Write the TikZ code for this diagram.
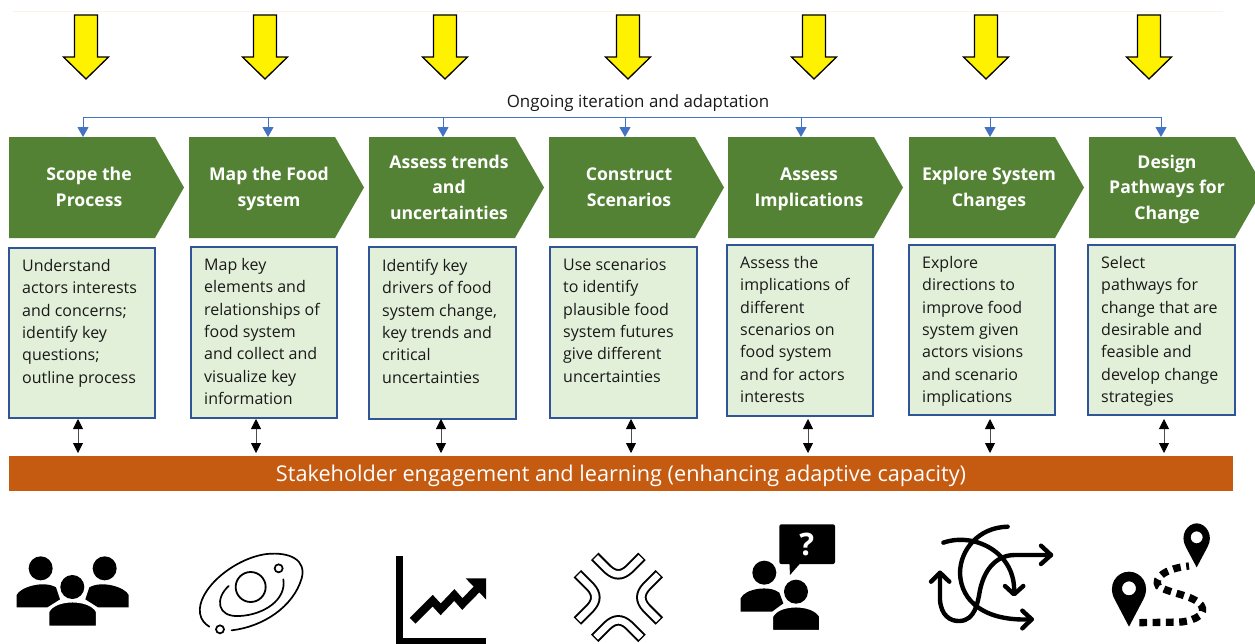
\documentclass[tikz,border=0pt]{standalone}
\usepackage{fontspec}
\setmainfont{Open Sans}
\usetikzlibrary{arrows.meta}
\definecolor{chevgreen}{HTML}{548235}
\definecolor{boxfill}{HTML}{E2F0D9}
\definecolor{boxline}{HTML}{2F5597}
\definecolor{iterblue}{HTML}{4472C4}
\definecolor{barorange}{HTML}{C55A11}
\definecolor{faint}{HTML}{FBF3E4}
\newcommand\fl{\rule{0pt}{16pt}}
\newcommand\hf{\rule{0pt}{15pt}}
\newcommand\hl{\rule[-5pt]{0pt}{5pt}}
\tikzset{
  chevtext/.style={text=white,font=\fontsize{17.6}{25.5}\selectfont\bfseries,align=center,inner sep=0pt},
  descbox/.style={draw=boxline,fill=boxfill,line width=1.5pt,inner sep=0pt,outer sep=0pt,anchor=north west},
  desctext/.style={font=\fontsize{16}{22.4}\selectfont,align=left,anchor=north west,inner sep=0pt,text=black!90},
  yarrow/.style={draw=black,fill=yellow,line width=1.3pt,miter limit=10},
  iter/.style={draw=iterblue,line width=1pt,-{Triangle[length=10pt,width=11pt]}},
  dbl/.style={draw=black!70,line width=.8pt,{Triangle[length=10pt,width=10pt,black]}-{Triangle[length=10pt,width=10pt,black]}},
  zoomone/.style={shift={(0,510)},x=.33333pt,y=-.33333pt},
  zoomtwo/.style={shift={(420,510)},x=.33333pt,y=-.33333pt},
  zoomthree/.style={shift={(835,510)},x=.33333pt,y=-.33333pt}
}
\begin{document}
\begin{tikzpicture}[x=1pt,y=-1pt]
\useasboundingbox (0,0) rectangle (1255,643);
\clip (0,0) rectangle (1255,643);
\fill[white] (0,0) rectangle (1255,643);
\draw[faint,line width=.8pt] (13,11) -- (1223,11);
% yellow arrows
\foreach \c in {86,265,445,628,814,986,1149}{
  \draw[yarrow] (\c-11.5,15) -- (\c+11.5,15) -- (\c+11.5,57) -- (\c+22.5,57) -- (\c,79) -- (\c-22.5,57) -- (\c-11.5,57) -- cycle;
}
% chevrons
\foreach \n/\l in {1/9,2/189,3/369,4/549,5/728,6/909,7/1089}{
  \fill[chevgreen] (\l,137) -- (\l+146,137) -- (\l+175,187.5) -- (\l+146,238) -- (\l,238) -- cycle;
  \coordinate (chev\n) at (\l,137);
}
\node[chevtext] (h1) at (89,188.5) {\hf Scope the\\Process\hl};
\node[chevtext] (h2) at (269,188.5) {\hf Map the Food\\system\hl};
\node[chevtext] (h3) at (449,188.5) {\hf Assess trends\\and\\uncertainties\hl};
\node[chevtext] (h4) at (629,188.5) {\hf Construct\\Scenarios\hl};
\node[chevtext] (h5) at (809,188.5) {\hf Assess\\Implications\hl};
\node[chevtext] (h6) at (989,188.5) {\hf Explore System\\Changes\hl};
\node[chevtext] (h7) at (1167,188.5) {\hf Design\\Pathways for\\Change\hl};
% iteration line
\node[font=\fontsize{16.9}{18}\selectfont,inner sep=0pt,text=black!90] (iterlabel) at (638,103.5) {Ongoing iteration and adaptation};
\coordinate (lineL) at (83,117);
\coordinate (lineR) at (1161,117);
\draw[iterblue,line width=1pt] (lineL) -- (lineR);
\foreach \x in {83,268,443,625,801,990,1161}{
  \coordinate (ls\x) at (\x,117);
  \coordinate (le\x) at (\x,137);
  \draw[iter] (ls\x) -- (le\x);
}
% description boxes
\node[descbox,minimum width=146pt,minimum height=170pt] (b1) at (9,248) {};
\node[descbox,minimum width=146pt,minimum height=171pt] (b2) at (191,247) {};
\node[descbox,minimum width=147pt,minimum height=172pt] (b3) at (369,247) {};
\node[descbox,minimum width=147pt,minimum height=171pt] (b4) at (550,247) {};
\node[descbox,minimum width=146pt,minimum height=171pt] (b5) at (727,245) {};
\node[descbox,minimum width=146pt,minimum height=170pt] (b6) at (909,245) {};
\node[descbox,minimum width=147pt,minimum height=170pt] (b7) at (1088,245) {};
\node[desctext] (t1) at (22,255) {\fl Understand\\actors interests\\and concerns;\\identify key\\questions;\\outline process};
\node[desctext] (t2) at (204,254) {\fl Map key\\elements and\\relationships of\\food system\\and collect and\\visualize key\\information};
\node[desctext] (t3) at (382,255) {\fl Identify key\\drivers of food\\system change,\\key trends and\\critical\\uncertainties};
\node[desctext] (t4) at (563,254) {\fl Use scenarios\\to identify\\plausible food\\system futures\\give different\\uncertainties};
\node[desctext] (t5) at (740,252) {\fl Assess the\\implications of\\different\\scenarios on\\food system\\and for actors\\interests};
\node[desctext] (t6) at (922,252) {\fl Explore\\directions to\\improve food\\system given\\actors visions\\and scenario\\implications};
\node[desctext] (t7) at (1101,252) {\fl Select\\pathways for\\change that are\\desirable and\\feasible and\\develop change\\strategies};
% orange bar
\node[fill=barorange,minimum width=1224pt,minimum height=35pt,inner sep=0pt,outer sep=0pt,anchor=north west] (bar) at (9,456) {};
\node[text=white,inner sep=0pt,font=\fontsize{21.7}{24}\selectfont] (barlabel) at (621,476) {Stakeholder engagement and learning (enhancing adaptive capacity)};
% double arrows
\foreach \x in {78,256,441,631,808,990,1164}{
  \coordinate (da\x) at (\x,419);
  \coordinate (db\x) at (\x,453);
  \draw[dbl] (da\x) -- (db\x);
}
% people icon
\begin{scope}[zoomone]
  \fill (122,175) circle (36);
  \fill (314,175) circle (36);
  \fill (50,292) -- (50,255) .. controls (60,232) and (130,210) .. (168,232) -- (180,268) -- (142,292) -- cycle;
  \fill (386,292) -- (386,255) .. controls (376,232) and (306,210) .. (268,232) -- (256,268) -- (294,292) -- cycle;
  \fill[white] (217,231) circle (44);
  \fill (217,231) circle (36);
  \draw[white,line width=1.6pt,fill=black] (146,349) -- (146,305) .. controls (165,265) and (269,265) .. (290,305) -- (290,349) -- cycle;
\end{scope}
% galaxy icon
\begin{scope}[zoomone]
  \draw[line width=1.8pt] (752,231) circle (45);
  \draw[line width=1.7pt] (836,175) circle (12);
  \draw[line width=1.7pt] (660,358) circle (12);
  \draw[line width=1.7pt,line cap=round] (686,228) .. controls (645,265) and (650,322) .. (718,318) .. controls (790,315) and (860,270) .. (850,208);
  \draw[line width=1.7pt,line cap=round] (695,361) .. controls (790,350) and (880,290) .. (905,205) .. controls (920,150) and (870,125) .. (800,132) .. controls (700,145) and (590,240) .. (600,310) .. controls (603,330) and (615,342) .. (628,350);
\end{scope}
% chart icon
\begin{scope}[zoomtwo]
  \fill (-73,138) rectangle (-50,402);
  \fill (-73,385) rectangle (198,402);
  \draw[line width=8pt,miter limit=6] (-22,332) -- (38,272) -- (62,298) -- (103,255) -- (127,282) -- (172,236);
  \fill (198,205) -- (137,205) -- (198,268) -- cycle;
\end{scope}
% compress icon
\begin{scope}[zoomtwo,shift={(595,262)}]
  \foreach \a in {0,90,180,270}{
    \begin{scope}[rotate=\a]
      \draw[line width=10.5pt] (-71,-123) -- (-32,-84) .. controls (-10,-64) and (10,-64) .. (32,-84) -- (71,-123);
      \draw[white,line width=6.6pt] (-68,-120) -- (-32,-84) .. controls (-10,-64) and (10,-64) .. (32,-84) -- (68,-120);
    \end{scope}
  }
\end{scope}
% question icon
\begin{scope}[zoomtwo]
  \fill (1033,188) circle (36);
  \fill (962,305) -- (962,265) .. controls (975,235) and (1050,225) .. (1078,248) -- (1090,280) -- (1056,305) -- cycle;
  \fill[white] (1128,245) circle (44);
  \fill (1128,245) circle (36);
  \draw[white,line width=1.6pt,fill=black] (1057,362) -- (1057,320) .. controls (1075,280) and (1180,280) .. (1200,320) -- (1200,362) -- cycle;
  \fill[rounded corners=2pt] (1078,43) -- (1245,43) -- (1245,162) -- (1078,162) -- cycle;
  \fill (1108,155) -- (1110,195) -- (1145,155) -- cycle;
  \node[text=white,font=\fontsize{31}{32}\selectfont\bfseries,inner sep=0pt] (qmark) at (1160,104) {?};
\end{scope}
% crossing arrows icon
\begin{scope}[zoomthree,line width=4.4pt,line cap=round,line join=round]
  \draw (325,98) .. controls (420,65) and (545,130) .. (537,250);
  \draw (510,228) -- (537,253) -- (565,228);
  \draw (518,50) .. controls (430,52) and (375,120) .. (375,190) .. controls (378,275) and (450,335) .. (590,328);
  \draw (562,302) -- (590,328) -- (562,355);
  \draw (315,190) -- (315,270) .. controls (318,315) and (345,335) .. (375,333) .. controls (420,330) and (428,280) .. (435,240) .. controls (450,170) and (490,135) .. (540,135) -- (648,135);
  \draw (288,215) -- (315,188) -- (343,215);
  \draw (618,107) -- (648,135) -- (618,162);
\end{scope}
% map icon
\begin{scope}[zoomthree]
  \fill[even odd rule] (882,350) -- (840,270) .. controls (815,225) and (845,185) .. (882,185) .. controls (919,185) and (949,225) .. (924,270) -- cycle (882,235) circle (21);
  \fill[even odd rule] (1085,172) -- (1053,112) .. controls (1032,75) and (1058,40) .. (1085,40) .. controls (1112,40) and (1138,75) .. (1117,112) -- cycle (1085,82) circle (18);
  \draw[line width=7.3pt,dash pattern=on 7.7pt off 5.6pt] (913,338) -- (1040,336) .. controls (1085,330) and (1115,310) .. (1098,285) .. controls (1075,255) and (1000,250) .. (970,228) .. controls (955,205) and (990,175) .. (1062,168);
\end{scope}
\end{tikzpicture}
\end{document}
